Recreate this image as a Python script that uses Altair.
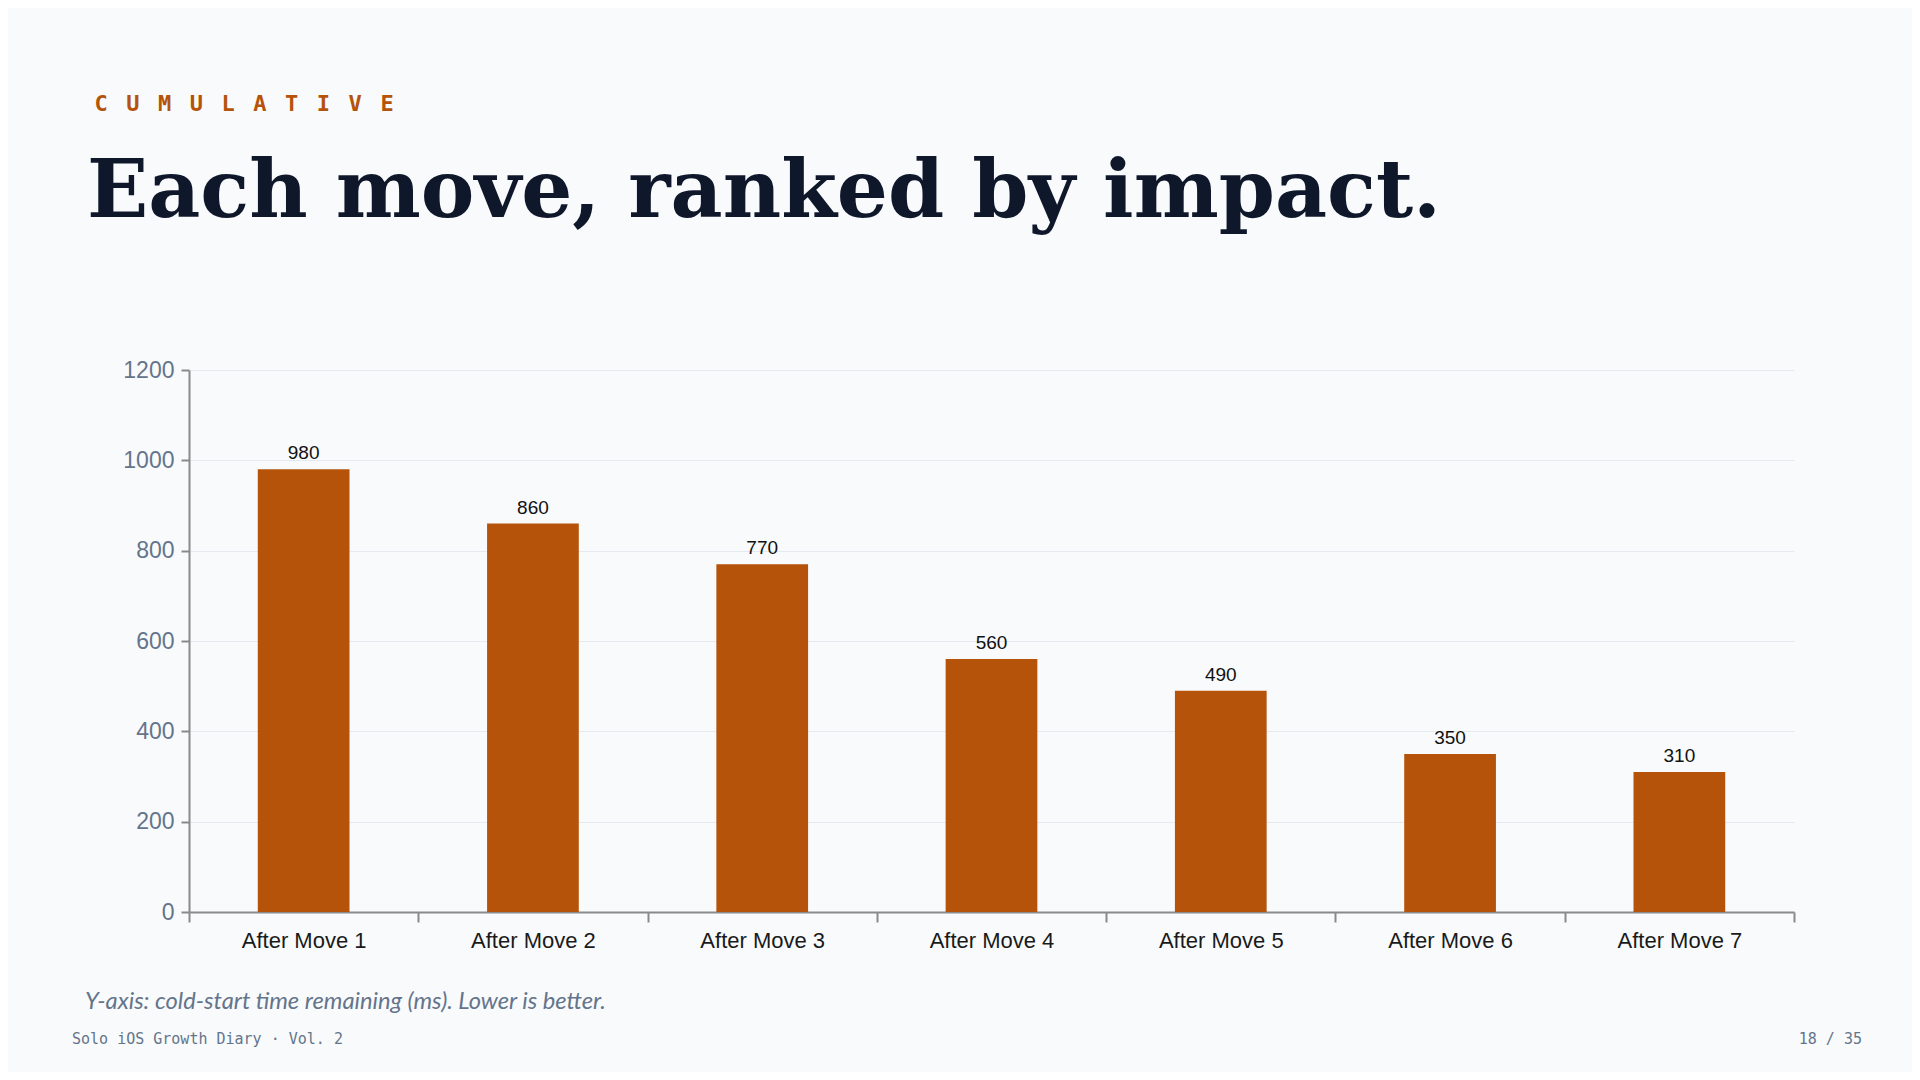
import altair as alt
import pandas as pd

categories = ["After Move 1", "After Move 2", "After Move 3", "After Move 4",
              "After Move 5", "After Move 6", "After Move 7"]
values = [980, 860, 770, 560, 490, 350, 310]
y_ticks = [0, 200, 400, 600, 800, 1000, 1200]

kicker_letters = list("CUMULATIVE")
title_text = "Each move, ranked by impact."
footnote_text = "Y-axis: cold-start time remaining (ms). Lower is better."
footer_left = "Solo iOS Growth Diary · Vol. 2"
footer_right = "18 / 35"

ORANGE = "#b45309"
SLATE = "#64748b"
INK = "#0f172a"
BG = "#f8fafc"

df = pd.DataFrame({"cat": categories, "value": values})

x_enc = alt.X("cat:N", sort=categories, title=None,
              scale=alt.Scale(paddingInner=0, paddingOuter=0),
              axis=alt.Axis(labelAngle=0, labelFont="Liberation Sans", labelFontSize=22,
                            labelColor="#1a1a1a", labelPadding=8, tickSize=10,
                            tickWidth=2, tickColor="#8a8a8a", domainColor="#8a8a8a",
                            domainWidth=2, tickBand="extent", grid=False))
y_enc = alt.Y("value:Q", title=None,
              scale=alt.Scale(domain=[0, 1200], nice=False),
              axis=alt.Axis(values=y_ticks, format="d", labelFont="Liberation Sans",
                            labelFontSize=23, labelColor=SLATE, labelPadding=7,
                            tickSize=8, tickWidth=2, tickColor="#8a8a8a",
                            domainColor="#8a8a8a", domainWidth=2,
                            grid=True, gridColor="#e5e9f0", gridWidth=1))

base = alt.Chart(df).encode(x=x_enc, y=y_enc)
bars = base.mark_bar(color=ORANGE, width=alt.RelativeBandSize(0.4))
labels = base.mark_text(
    dy=-10, baseline="alphabetic", font="Liberation Sans", fontSize=19, color="#111111"
).encode(text="value:Q")
plot = alt.layer(bars, labels)

kdf = pd.DataFrame({"i": list(range(len(kicker_letters))), "ch": kicker_letters})
kicker = alt.Chart(kdf).mark_text(
    font="DejaVu Sans Mono", fontWeight="bold", fontSize=22, color=ORANGE,
    align="center", baseline="alphabetic"
).encode(
    x=alt.X("i:Q", scale=alt.Scale(domain=[0, 9], range=[-88, 198]), axis=None),
    y=alt.value(-259),
    text="ch:N",
)

def text_layer(txt, x, y, **kw):
    return alt.Chart(pd.DataFrame({"t": [txt]})).mark_text(
        baseline="alphabetic", **kw
    ).encode(x=alt.value(x), y=alt.value(y), text="t:N")

title = text_layer(title_text, -102, -153, align="left", font="DejaVu Serif",
                   fontWeight="bold", fontSize=80.4, color=INK)
footnote = text_layer(footnote_text, -104, 639, align="left", font="Lato",
                      fontStyle="italic", fontSize=23.7, color=SLATE)
foot_l = text_layer(footer_left, -117, 674, align="left", font="DejaVu Sans Mono",
                    fontSize=15, color=SLATE)
foot_r = text_layer(footer_right, 1673, 674, align="right", font="DejaVu Sans Mono",
                    fontSize=15, color=SLATE)

chart = alt.layer(plot, kicker, title, footnote, foot_l, foot_r).resolve_scale(
    x="independent"
).properties(
    width=1605, height=542,
    autosize=alt.AutoSizeParams(type="none"),
    padding={"left": 181, "top": 362, "right": 118, "bottom": 160},
    background=BG,
).configure_view(stroke=None)

chart.save("out.html", embed_options={"renderer": "svg", "actions": False})
